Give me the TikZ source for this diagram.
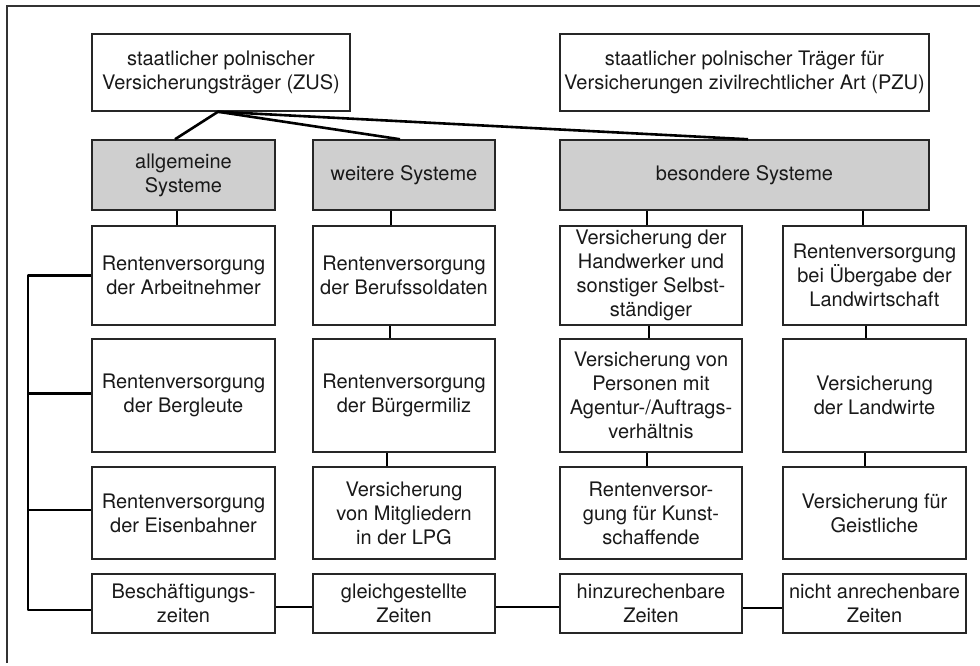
\documentclass[tikz,border=0pt]{standalone}
\usepackage{fontspec}
\setmainfont{TeX Gyre Heros}
\begin{document}
\begin{tikzpicture}[x=1pt,y=-1pt,
  box/.style={draw=black!85, line width=1.5pt, inner sep=0pt, align=center,
    font=\fontsize{20}{24}\selectfont, text=black!90},
  gbox/.style={box, fill=gray!38},
  conn/.style={line width=2.6pt, black},
  frame/.style={line width=1.1pt, black!80}]
\useasboundingbox (0,0) rectangle (980,665);
\draw[frame] (7,663) -- (7,6) -- (980,6);
% top
\node[box, minimum width=258, minimum height=77] (zus) at (221,72.5) {staatlicher polnischer\\Versicherungsträger (ZUS)};
\node[box, minimum width=369, minimum height=77] (pzu) at (744.5,72.5) {staatlicher polnischer Träger für\\Versicherungen zivilrechtlicher Art (PZU)};
% systems
\node[gbox, minimum width=183, minimum height=70] (allg) at (183.5,175) {allgemeine\\Systeme};
\node[gbox, minimum width=182, minimum height=70] (weit) at (404,175) {weitere Systeme};
\node[gbox, minimum width=369, minimum height=70] (bes) at (744.5,175) {besondere Systeme};
% row 1
\node[box, minimum width=183, minimum height=99] (r1c1) at (183.5,275.5) {Rentenversorgung\\der Arbeitnehmer};
\node[box, minimum width=182, minimum height=99] (r1c2) at (404,275.5) {Rentenversorgung\\der Berufssoldaten};
\node[box, minimum width=182, minimum height=99] (r1c3) at (651,275.5) {Versicherung der\\Handwerker und\\sonstiger Selbst-\\ständiger};
\node[box, minimum width=183, minimum height=99] (r1c4) at (874.5,275.5) {Rentenversorgung\\bei Übergabe der\\Landwirtschaft};
% row 2
\node[box, minimum width=183, minimum height=113] (r2c1) at (183.5,395.5) {Rentenversorgung\\der Bergleute};
\node[box, minimum width=182, minimum height=113] (r2c2) at (404,395.5) {Rentenversorgung\\der Bürgermiliz};
\node[box, minimum width=182, minimum height=113] (r2c3) at (651,395.5) {Versicherung von\\Personen mit\\Agentur-/Auftrags-\\verhältnis};
\node[box, minimum width=183, minimum height=113] (r2c4) at (874.5,395.5) {Versicherung\\der Landwirte};
% row 3
\node[box, minimum width=183, minimum height=92] (r3c1) at (183.5,513) {Rentenversorgung\\der Eisenbahner};
\node[box, minimum width=182, minimum height=92] (r3c2) at (404,513) {Versicherung\\von Mitgliedern\\in der LPG};
\node[box, minimum width=182, minimum height=92] (r3c3) at (651,513) {Rentenversor-\\gung für Kunst-\\schaffende};
\node[box, minimum width=183, minimum height=92] (r3c4) at (874.5,513) {Versicherung für\\Geistliche};
% row 4
\node[box, minimum width=183, minimum height=59] (r4c1) at (183.5,603.5) {Beschäftigungs-\\zeiten};
\node[box, minimum width=182, minimum height=59] (r4c2) at (404,603.5) {gleichgestellte\\Zeiten};
\node[box, minimum width=182, minimum height=59] (r4c3) at (651,603.5) {hinzurechenbare\\Zeiten};
\node[box, minimum width=183, minimum height=59] (r4c4) at (874.5,603.5) {nicht anrechenbare\\Zeiten};
% top fan
\draw[conn] ([xshift=-8.5pt]allg.north) -- ([xshift=-3pt]zus.south) -- ([xshift=-4pt]weit.north);
\draw[conn] ([xshift=-3pt]zus.south) -- ([xshift=3.5pt]bes.north);
% verticals
\draw[conn] ([xshift=-6.5pt]r1c1.north) -- ([xshift=-6.5pt]r1c1.north |- allg.south);
\draw[conn] ([xshift=-13pt]r1c2.north) -- ([xshift=-13pt]r1c2.north |- weit.south);
\draw[conn] ([xshift=-4pt]r1c3.north) -- ([xshift=-4pt]r1c3.north |- bes.south);
\draw[conn] ([xshift=-11.5pt]r1c4.north) -- ([xshift=-11.5pt]r1c4.north |- bes.south);
\draw[conn] ([xshift=-14pt]r2c2.north) -- ([xshift=-14pt]r2c2.north |- r1c2.south);
\draw[conn] ([xshift=-17pt]r3c2.north) -- ([xshift=-17pt]r3c2.north |- r2c2.south);
\draw[conn] ([xshift=-2pt]r2c3.north) -- ([xshift=-2pt]r2c3.north |- r1c3.south);
\draw[conn] ([xshift=-4pt]r3c3.north) -- ([xshift=-4pt]r3c3.north |- r2c3.south);
\draw[conn] ([xshift=-8.5pt]r2c4.north) -- ([xshift=-8.5pt]r2c4.north |- r1c4.south);
\draw[conn] ([xshift=-9.5pt]r3c4.north) -- ([xshift=-9.5pt]r3c4.north |- r2c4.south);
% left bracket
\coordinate (bt) at (28,275.5);
\coordinate (bb) at (28,610);
\draw[conn, line join=round] (r1c1.west) -- (bt) -- (bb) -- (bb -| r4c1.west);
\draw[conn] ([yshift=2pt]r2c1.west) -- ([yshift=2pt]r2c1.west -| bt);
\draw[conn] ([yshift=3pt]r3c1.west) -- ([yshift=3pt]r3c1.west -| bt);
% bottom row links
\draw[conn] ([yshift=-3.5pt]r4c1.east) -- ([yshift=-3.5pt]r4c2.west);
\draw[conn] ([yshift=-3.5pt]r4c2.east) -- ([yshift=-3.5pt]r4c3.west);
\draw[conn] ([yshift=-4.5pt]r4c3.east) -- ([yshift=-4.5pt]r4c4.west);
\end{tikzpicture}
\end{document}
